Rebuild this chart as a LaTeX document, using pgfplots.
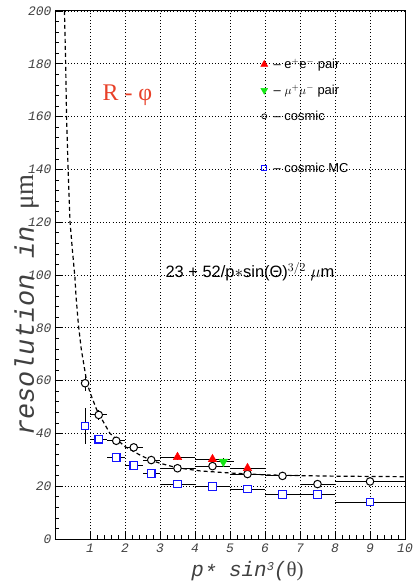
\documentclass[border=0pt]{standalone}
\usepackage{pgfplots}
\usepackage{pgfplotstable}
\pgfplotsset{compat=1.18}
\usepackage{fontspec}
\setmainfont{Liberation Sans}
\newfontfamily\monof{Liberation Mono}
\newfontfamily\timesf{Liberation Serif}
\definecolor{rphi}{RGB}{232,64,40}
\definecolor{mcblue}{RGB}{20,20,255}
\definecolor{mugreen}{RGB}{20,230,20}
\pgfplotstableread{
x y ex ey
0.86 42.8 0 7
1.25 37.8 0.25 1
1.75 30.8 0.25 1
2.25 27.9 0.25 1
2.75 24.9 0.25 0.5
3.5 20.8 0.5 1
4.5 19.8 0.5 0.5
5.5 18.9 0.5 0.5
6.5 16.9 0.5 0.5
7.5 16.9 0.5 0.5
9.0 14.0 1.0 0.5
}\mctab
\pgfplotstableread{
x y ex ey
0.86 59 0 3
1.25 47 0.25 2
1.75 37.2 0.25 1
2.25 34.7 0.25 1
2.75 29.9 0.25 1
3.5 26.8 0.5 1
4.5 27.6 0.5 1
5.5 24.6 0.5 1
6.5 23.9 0.5 0.5
7.5 20.8 0.5 0.5
9.0 21.8 1.0 0.5
}\cosmictab
\pgfplotstableread{
x y ex ey
3.5 31.0 0.5 1
4.5 30.2 0.5 1
5.5 26.8 0.5 1
}\eetab
\pgfplotstableread{
x y ex ey
4.81 29.3 0.3 1.5
}\mumutab
\begin{document}
\begin{tikzpicture}
\useasboundingbox (-55bp,-45bp) rectangle (364bp,539bp);
\begin{axis}[
  scale only axis,
  width=350bp, height=528bp,
  xmin=0, xmax=10, ymin=0, ymax=200,
  xtick={1,2,...,10}, ytick={0,20,...,200},
  minor x tick num=4, minor y tick num=4,
  tick pos=left, tick align=inside,
  major tick length=8bp, minor tick length=4bp,
  axis line style={line width=1pt},
  every tick/.style={black, line width=0.6pt},
  grid=major,
  major grid style={black, line width=0.7pt, dash pattern=on 1bp off 2.2bp},
  /pgf/number format/assume math mode=true,
  tick label style={font=\monof\itshape\fontsize{13}{13}\selectfont, black!75},
  xticklabel style={yshift=-1bp},
  xlabel={\monof\itshape p\raisebox{-3pt}{*} sin\raisebox{6pt}{\fontsize{12}{12}\selectfont 3}(\timesf\upshape θ)},
  xlabel style={at={(axis description cs:0.55,-0.061)}, anchor=center, font=\fontsize{21}{21}\selectfont, black!75},
  ylabel={\monof\itshape resolution in {\timesf\upshape μm}},
  ylabel style={at={(axis description cs:-0.08,0.443)}, anchor=center, font=\fontsize{27}{27}\selectfont, black!75},
  legend style={draw=none, fill=none, at={(axis cs:5.73,184.8)}, anchor=north west, inner sep=0pt,
    font=\fontsize{13}{13}\selectfont, row sep=0pt, column sep=5bp,
    nodes={minimum height=26bp, inner sep=1pt}},
  legend cell align=left,
  errb/.style={draw=none, mark=none, forget plot,
    error bars/.cd, x dir=both, x explicit, y dir=both, y explicit,
    error mark=none, error bar style={black, line width=0.9pt}},
]
% fit curve
\addplot[black, line width=1.2pt, dash pattern=on 4bp off 3bp, forget plot] coordinates {
(0.27,200) (0.305,180) (0.33,160) (0.375,140) (0.43,120) (0.5,109) (0.57,99)
(0.6,92) (0.67,81) (0.75,72) (0.9,60) (1.0,55.5) (1.19,49) (1.29,46.5)
(1.57,40) (2.0,35) (2.4,32) (2.71,30) (3.0,28.7) (3.48,27) (4.14,25.8)
(5.0,25) (6.0,24.3) (7.0,24) (8.0,23.8) (10.0,23.6)};
% error bars first
\addplot[errb] table[x=x, y=y, x error=ex, y error=ey] {\mctab};
\addplot[errb] table[x=x, y=y, x error=ex, y error=ey] {\cosmictab};
\addplot[errb] table[x=x, y=y, x error=ex, y error=ey] {\eetab};
\addplot[errb] table[x=x, y=y, x error=ex, y error=ey] {\mumutab};
% markers
\addplot[color=mcblue, only marks, mark=square*, mark size=3.8pt, mark options={draw=mcblue, line width=1.1pt, fill=white}, forget plot] table[x=x, y=y] {\mctab};
\addplot[color=black, only marks, mark=*, mark size=3.8pt, mark options={draw=black, line width=1pt, fill=white}, forget plot] table[x=x, y=y] {\cosmictab};
\addplot[color=red, only marks, mark=triangle*, mark size=5pt, mark options={red, fill=red}, forget plot] table[x=x, y=y] {\eetab};
\addplot[color=mugreen, only marks, mark=triangle*, mark size=5pt, mark options={mugreen, fill=mugreen, rotate=180}, forget plot] table[x=x, y=y] {\mumutab};
% legend
\addlegendimage{only marks, mark=triangle*, mark size=4pt, mark options={red, fill=red}}
\addlegendentry{– e$^{+}$e$^{-}$ pair}
\addlegendimage{only marks, mark=triangle*, mark size=4pt, mark options={mugreen, fill=mugreen, rotate=180}}
\addlegendentry{– $\mu^{+}\mu^{-}$ pair}
\addlegendimage{only marks, mark=o, mark size=2.5pt, mark options={black, line width=0.7pt}}
\addlegendentry{– cosmic}
\addlegendimage{empty legend}
\addlegendentry{}
\addlegendimage{only marks, mark=square, mark size=2.5pt, mark options={mcblue, line width=0.8pt}}
\addlegendentry{– cosmic MC}
% texts
\node[text=rphi, font=\timesf\fontsize{24}{24}\selectfont] at (axis cs:2.07,168.2) {R - φ};
\node[font=\fontsize{16.5}{16.5}\selectfont] at (axis cs:5.57,101.3) {23 + 52/p$*$sin(Θ)$^{3/2}$ $\mu$m};
\end{axis}
\end{tikzpicture}
\end{document}
